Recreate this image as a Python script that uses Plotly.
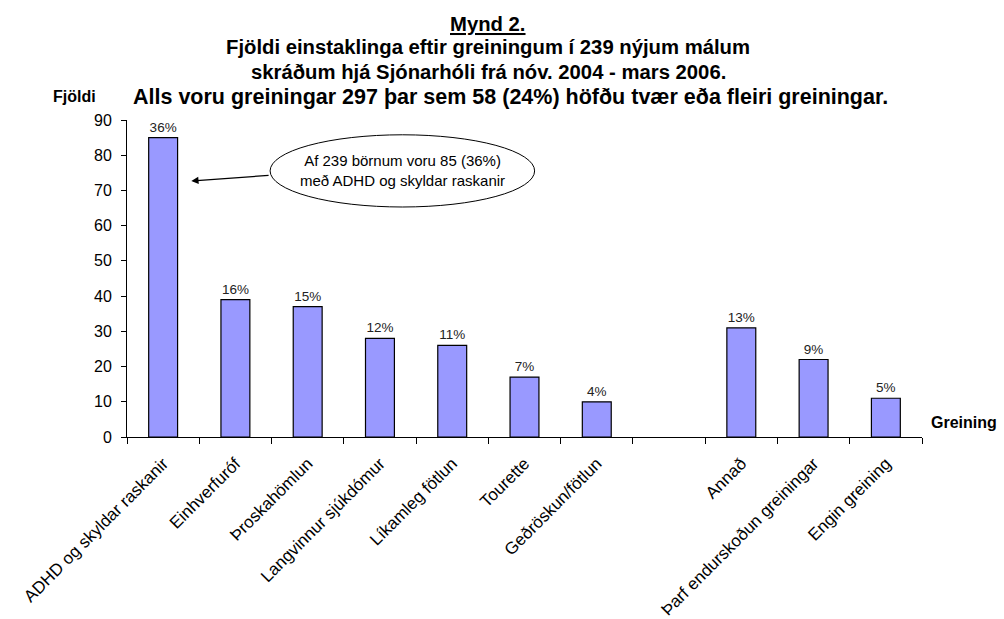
import plotly.graph_objects as go

# Data
categories = [
    "ADHD og skyldar raskanir", "Einhverfuróf", "Þroskahömlun",
    "Langvinnur sjúkdómur", "Líkamleg fötlun", "Tourette",
    "Geðröskun/fötlun", " ", "Annað", "Þarf endurskoðun greiningar",
    "Engin greining",
]
counts = [85, 39, 37, 28, 26, 17, 10, None, 31, 22, 11]
pct_labels = ["36%", "16%", "15%", "12%", "11%", "7%", "4%", "", "13%", "9%", "5%"]

title_lines = [
    "<u>Mynd 2.</u>",
    "Fjöldi einstaklinga eftir greiningum í 239 nýjum málum",
    "skráðum hjá Sjónarhóli frá nóv. 2004 - mars 2006.",
]
subtitle = "Alls voru greiningar 297 þar sem 58 (24%) höfðu tvær eða fleiri greiningar."

FONT = "Arial, Liberation Sans, sans-serif"

fig = go.Figure()
fig.add_trace(go.Bar(
    x=categories,
    y=counts,
    text=pct_labels,
    textposition="outside",
    textfont=dict(size=13.5, color="#222"),
    cliponaxis=False,
    marker=dict(color="#9999FF", line=dict(color="black", width=1.2)),
    width=0.4,
))

# title block, one annotation per line (pixel positions from the top)
title_y = [24, 47, 72]
annotations = []
for line, ypx in zip(title_lines, title_y):
    annotations.append(dict(
        text="<b>" + line + "</b>", xref="paper", yref="paper",
        x=(488 - 127) / 795, y=(437 - ypx) / 317,
        xanchor="center", yanchor="middle", showarrow=False,
        font=dict(size=20.3, family=FONT, color="black"),
    ))

annotations += [
    dict(text="<b>" + subtitle + "</b>", xref="paper", yref="paper",
         x=(131 - 127) / 795, y=(437 - 97) / 317,
         xanchor="left", yanchor="middle", showarrow=False,
         font=dict(size=21.5, family=FONT, color="black")),
    dict(text="<b>Fjöldi</b>", xref="paper", yref="paper",
         x=(74 - 127) / 795, y=(437 - 96) / 317,
         xanchor="center", yanchor="middle", showarrow=False,
         font=dict(size=16, family=FONT, color="black")),
    dict(text="<b>Greining</b>", xref="paper", yref="paper",
         x=(929 - 127) / 795, y=(437 - 422) / 317,
         xanchor="left", yanchor="middle", showarrow=False,
         font=dict(size=16, family=FONT, color="black")),
    # callout text inside the ellipse
    dict(text="Af 239 börnum voru 85 (36%)<br>með ADHD og skyldar raskanir",
         x=3.31, y=75.6, xref="x", yref="y", showarrow=False,
         font=dict(size=15, family=FONT, color="black")),
    # arrow from the ellipse to the first bar
    dict(text="", x=0.39, y=72.7, ax=1.48, ay=74.3, xref="x", yref="y",
         axref="x", ayref="y", showarrow=True, arrowhead=2, arrowsize=1.2,
         arrowwidth=1.2, arrowcolor="black"),
]

fig.add_shape(type="circle", xref="x", yref="y",
              x0=1.48, x1=5.14, y0=65.3, y1=85.8,
              line=dict(color="black", width=1), fillcolor="rgba(0,0,0,0)")

fig.update_layout(
    width=1004, height=619,
    paper_bgcolor="white", plot_bgcolor="white",
    margin=dict(l=127, r=82, t=120, b=182, autoexpand=False),
    font=dict(family=FONT, size=14, color="black"),
    showlegend=False,
    annotations=annotations,
    xaxis=dict(
        type="category", range=[-0.5, 10.5], tickangle=-45, automargin=False,
        tickson="boundaries", ticks="outside", ticklen=6, tickcolor="black",
        showline=True, linecolor="black", linewidth=1, showgrid=False,
        ticklabelstandoff=9,
        tickfont=dict(size=17, family=FONT, color="black"),
    ),
    yaxis=dict(
        range=[0, 90], dtick=10, ticks="outside", ticklen=5, tickcolor="black",
        showline=True, linecolor="black", linewidth=1, showgrid=False,
        zeroline=False, automargin=False, ticklabelstandoff=6,
        tickfont=dict(size=16, family=FONT, color="black"),
    ),
)

fig.write_html("out.html", config={"displayModeBar": False},
               post_script="document.body.style.margin='0';")
